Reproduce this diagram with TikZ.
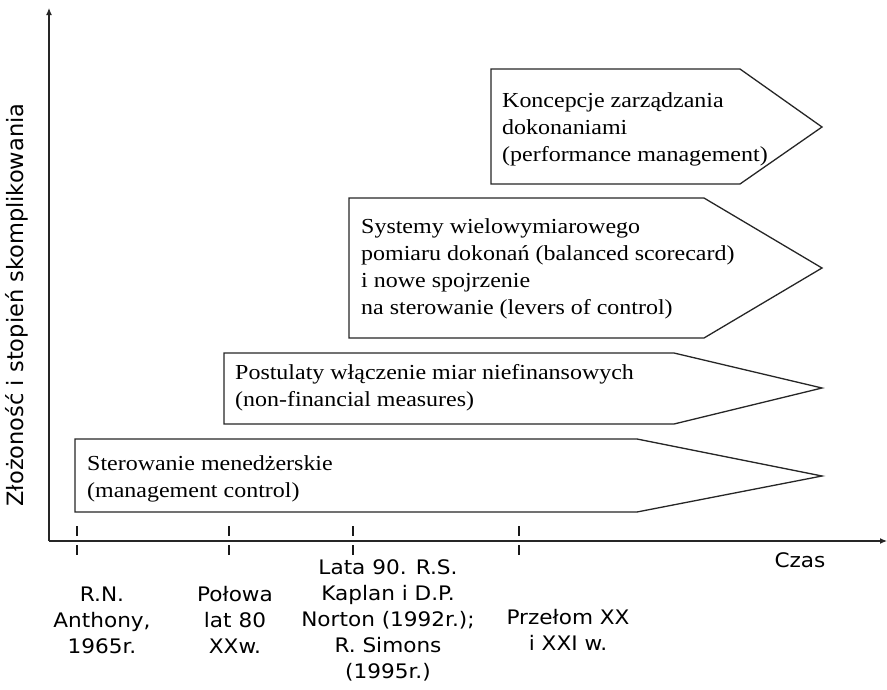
\documentclass[tikz,border=0pt]{standalone}
\usepackage{fontspec}
\setmainfont{Liberation Serif}[FakeStretch=1.12]
\newfontfamily\lblfont{DejaVu Sans}[FakeStretch=1.08]
\newfontfamily\axfont{DejaVu Sans}
\usetikzlibrary{arrows.meta}
\begin{document}
\begin{tikzpicture}[x=1pt,y=-1pt,
  box/.style={draw=black!85, line width=1.3pt, line join=miter, fill=white},
  boxtext/.style={anchor=north west, inner sep=0pt, align=left, font=\fontsize{21.4}{27}\selectfont},
  when/.style={align=center, inner sep=0pt, font=\lblfont\fontsize{20}{26}\selectfont},
  axis/.style={line width=1.2pt, draw=black!85, -{Latex[length=7pt,width=6pt]}},
  tickmark/.style={line width=2.6pt, draw=black!90, dash pattern=on 10pt off 9pt}
]
\useasboundingbox (0,0) rectangle (887,689);
% axes
\coordinate (O) at (49,541);
\coordinate (Ytop) at (49,8);
\coordinate (Xend) at (887,541);
\draw[axis] (O) -- (Ytop);
\draw[axis] (O) -- (Xend);
% ticks
\foreach \x in {77,229,353,519} {\draw[tickmark] (\x,526) -- (\x,556);}
% boxes
\draw[box] (75,439) -- (637,439) -- (822,476) -- (637,512) -- (75,512) -- cycle;
\draw[box] (224,353) -- (674,353) -- (822,388) -- (674,424) -- (224,424) -- cycle;
\draw[box] (349,198) -- (704,198) -- (822,268) -- (704,338) -- (349,338) -- cycle;
\draw[box] (491,69) -- (740,69) -- (822,127) -- (740,184) -- (491,184) -- cycle;
% box texts
\node[boxtext] (t1) at (87,455) {Sterowanie menedżerskie\\(management control)};
\node[boxtext] (t2) at (235,364) {Postulaty włączenie miar niefinansowych\\(non-financial measures)};
\node[boxtext] (t3) at (361,218) {Systemy wielowymiarowego\\pomiaru dokonań (balanced scorecard)\\i nowe spojrzenie\\na sterowanie (levers of control)};
\node[boxtext] (t4) at (502,92) {Koncepcje zarządzania\\dokonaniami\\(performance management)};
% axis labels
\node[rotate=90, inner sep=0pt, font=\axfont\fontsize{22.5}{26}\selectfont] (ylab) at (17,305) {Złożoność i stopień skomplikowania};
\node[when] (czas) at (800,560) {Czas};
% time labels
\node[when] (w1) at (102,620) {R.N.\\Anthony,\\1965r.};
\node[when] (w2) at (235,620) {Połowa\\lat 80\\XXw.};
\node[when] (w3) at (388,620) {Lata 90. R.S.\\Kaplan i D.P.\\Norton (1992r.);\\R. Simons\\(1995r.)};
\node[when] (w4) at (568,630) {Przełom XX\\i XXI w.};
\end{tikzpicture}
\end{document}
